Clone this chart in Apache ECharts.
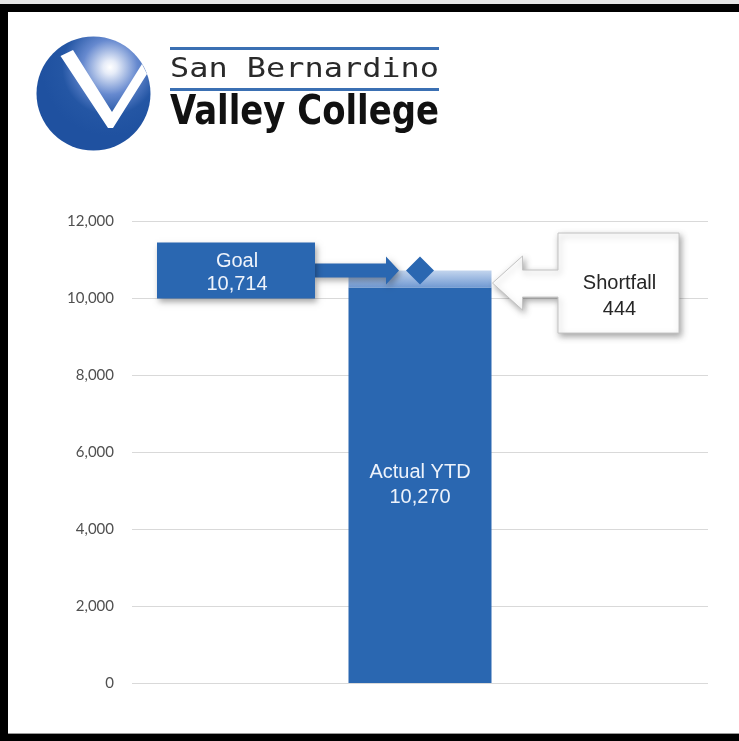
<!DOCTYPE html>
<html>
<head>
<meta charset="utf-8">
<script src="https://cdn.jsdelivr.net/npm/echarts@6/dist/echarts.min.js"></script>
<style>
  html, body { margin: 0; padding: 0; background: #ffffff; }
  #chart { width: 739px; height: 741px; }
</style>
</head>
<body>
<div id="chart"></div>
<script>
// Enrollment year-to-date versus goal
const categories = ['YTD'];
const actualValues = [10270];
const shortfallValues = [444];
const goalValues = [10714];
const yTicks = [0, 2000, 4000, 6000, 8000, 10000, 12000];

const BLUE = '#2a67b1';
const fmt = v => Number(v).toLocaleString('en-US');

const chart = echarts.init(document.getElementById('chart'), null, { renderer: 'canvas' });

chart.setOption({
  animation: false,
  backgroundColor: '#ffffff',
  grid: { left: 132, right: 31, top: 221, bottom: 58 },
  xAxis: {
    type: 'category',
    data: categories,
    axisLine: { show: false },
    axisTick: { show: false },
    axisLabel: { show: false },
    splitLine: { show: false }
  },
  yAxis: {
    type: 'value',
    min: yTicks[0],
    max: yTicks[yTicks.length - 1],
    interval: yTicks[1] - yTicks[0],
    axisLine: { show: false },
    axisTick: { show: false },
    axisLabel: {
      margin: 18,
      color: '#505050',
      fontFamily: 'Lato, "Open Sans", sans-serif',
      fontSize: 15,
      formatter: v => fmt(v)
    },
    splitLine: { lineStyle: { color: '#d9d9d9', width: 1 } }
  },
  series: [
    {
      name: 'Actual YTD',
      type: 'bar',
      stack: 'enrollment',
      barWidth: 143,
      data: actualValues,
      itemStyle: { color: BLUE },
      label: {
        show: true,
        position: 'inside',
        color: '#eef3fb',
        fontFamily: '"Liberation Sans", Arial, sans-serif',
        fontSize: 20,
        lineHeight: 25,
        formatter: p => 'Actual YTD\n' + fmt(p.value)
      },
      z: 2
    },
    {
      name: 'Shortfall',
      type: 'bar',
      stack: 'enrollment',
      barWidth: 143,
      data: shortfallValues,
      itemStyle: {
        color: new echarts.graphic.LinearGradient(0, 0, 0, 1, [
          { offset: 0, color: '#c3d5ee' },
          { offset: 1, color: '#7099d2' }
        ])
      },
      z: 2
    },
    {
      name: 'Goal',
      type: 'scatter',
      data: goalValues,
      symbol: 'diamond',
      symbolSize: [28, 28],
      itemStyle: { color: BLUE, opacity: 1 },
      z: 5
    }
  ]
});

// Pixel anchors derived from the data
const goalPt = chart.convertToPixel({ gridIndex: 0 }, [categories[0], goalValues[0]]);
const actualPt = chart.convertToPixel({ gridIndex: 0 }, [categories[0], actualValues[0]]);
const cx = goalPt[0];
const gy = goalPt[1];
const midY = (gy + actualPt[1]) / 2;
const barHalf = 143 / 2;

function measure(str, font) {
  const ctx = document.createElement('canvas').getContext('2d');
  ctx.font = font;
  return ctx.measureText(str).width;
}

// Logo text fitted to the rule width
const ruleLeft = 170, ruleRight = 439, ruleW = ruleRight - ruleLeft;
const topFont = { size: 27, family: '"DejaVu Sans Mono", monospace', weight: 'normal' };
const botFont = { size: 40, family: '"DejaVu Sans Condensed", "Liberation Sans Narrow", "DejaVu Sans", sans-serif', weight: 'bold' };
const topText = 'San Bernardino';
const botText = 'Valley College';
const topW = measure(topText, `${topFont.weight} ${topFont.size}px ${topFont.family}`);
const botW = measure(botText, `${botFont.weight} ${botFont.size}px ${botFont.family}`);

const shadow = { shadowBlur: 6, shadowColor: 'rgba(0,0,0,0.35)', shadowOffsetX: 2, shadowOffsetY: 3 };

// Goal callout geometry (box to the left, arrow pointing at the diamond)
const tipX = cx - 21;
const goalBox = { x: 157, y: gy - 28, width: 158, height: 56 };
const gRight = goalBox.x + goalBox.width;
const headBase = tipX - 13;

// Shortfall callout geometry (box to the right, arrow pointing at the bar)
const sTipX = cx + barHalf + 1;
const sTipY = midY + 4;
const sBoxL = 558, sBoxR = 679;
const sHeadX = sTipX + 30;

chart.setOption({
  graphic: [
    // frame
    { type: 'rect', shape: { x: 0, y: 0, width: 739, height: 4 }, style: { fill: '#e4e4e4' }, silent: true },
    { type: 'rect', shape: { x: 0, y: 4, width: 739, height: 8 }, style: { fill: '#000000' }, silent: true },
    { type: 'rect', shape: { x: 0, y: 4, width: 8, height: 737 }, style: { fill: '#000000' }, silent: true },
    { type: 'rect', shape: { x: 0, y: 734, width: 739, height: 7 }, style: { fill: '#000000' }, silent: true },
    { type: 'rect', shape: { x: 8, y: 733, width: 731, height: 1 }, style: { fill: '#9a9a9a' }, silent: true },

    // logo emblem
    {
      type: 'circle',
      shape: { cx: 93.5, cy: 93.5, r: 57 },
      style: {
        fill: new echarts.graphic.RadialGradient(0.645, 0.27, 0.6, [
          { offset: 0, color: '#ffffff' },
          { offset: 0.1, color: '#e6ecf8' },
          { offset: 0.4, color: '#6689cf' },
          { offset: 0.7, color: '#2456a4' },
          { offset: 1, color: '#1f51a0' }
        ])
      },
      silent: true
    },
    {
      type: 'polygon',
      shape: { points: [[60.5, 56], [73, 50], [112, 112], [142, 64], [147, 74], [113, 128], [108, 128]] },
      style: { fill: '#ffffff' },
      silent: true
    },
    // logo rules
    { type: 'rect', shape: { x: ruleLeft, y: 47, width: ruleW, height: 3 }, style: { fill: '#3b70b3' }, silent: true },
    { type: 'rect', shape: { x: ruleLeft, y: 88, width: ruleW, height: 3 }, style: { fill: '#3b70b3' }, silent: true },
    // logo words
    {
      type: 'text', x: ruleLeft, y: 70, scaleX: ruleW / topW,
      style: {
        text: topText, x: 0, y: 0, fill: '#2a2a2a',
        fontSize: topFont.size, fontFamily: topFont.family, fontWeight: topFont.weight,
        align: 'left', verticalAlign: 'middle'
      },
      silent: true
    },
    {
      type: 'text', x: ruleLeft, y: 114, scaleX: ruleW / botW,
      style: {
        text: botText, x: 0, y: 0, fill: '#111111',
        fontSize: botFont.size, fontFamily: botFont.family, fontWeight: botFont.weight,
        align: 'left', verticalAlign: 'middle'
      },
      silent: true
    },

    // goal callout
    {
      type: 'polygon', z: 10,
      shape: { points: [
        [gRight - 1, gy - 7], [headBase, gy - 7], [headBase, gy - 14], [tipX, gy],
        [headBase, gy + 14], [headBase, gy + 7], [gRight - 1, gy + 7]
      ] },
      style: Object.assign({ fill: BLUE }, shadow),
      silent: true
    },
    {
      type: 'rect', z: 11,
      shape: goalBox,
      style: Object.assign({ fill: BLUE }, shadow),
      silent: true
    },
    {
      type: 'text', z: 12,
      x: goalBox.x + goalBox.width / 2 + 1, y: gy + 2,
      style: {
        text: 'Goal\n' + fmt(goalValues[0]), fill: '#eef3fb',
        fontSize: 20, lineHeight: 23, fontFamily: '"Liberation Sans", Arial, sans-serif',
        align: 'center', verticalAlign: 'middle'
      },
      silent: true
    },

    // shortfall callout
    {
      type: 'polygon', z: 10,
      shape: { points: [
        [sBoxL, sTipY - 50], [sBoxR, sTipY - 50], [sBoxR, sTipY + 50], [sBoxL, sTipY + 50],
        [sBoxL, sTipY + 14], [sHeadX, sTipY + 14], [sHeadX, sTipY + 27], [sTipX, sTipY],
        [sHeadX, sTipY - 27], [sHeadX, sTipY - 13], [sBoxL, sTipY - 13]
      ] },
      style: Object.assign({ fill: '#ffffff', stroke: '#c4c4c4', lineWidth: 1 }, shadow),
      silent: true
    },
    {
      type: 'text', z: 12,
      x: (sBoxL + sBoxR) / 2 + 1, y: sTipY + 13,
      style: {
        text: 'Shortfall\n' + fmt(shortfallValues[0]), fill: '#262626',
        fontSize: 20, lineHeight: 26, fontFamily: '"Liberation Sans", Arial, sans-serif',
        align: 'center', verticalAlign: 'middle'
      },
      silent: true
    }
  ]
});
</script>
</body>
</html>
